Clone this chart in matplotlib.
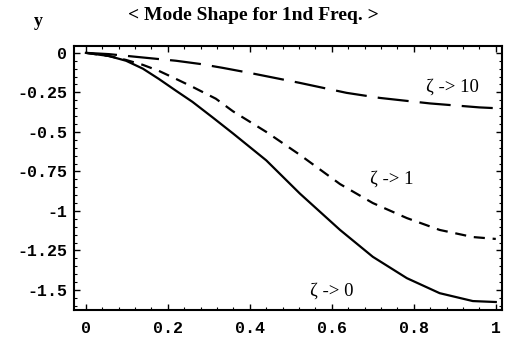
import numpy as np
import matplotlib.pyplot as plt
from matplotlib.ticker import MultipleLocator

# values
x_z0 = [0.0, 0.056, 0.098, 0.139, 0.178, 0.22, 0.26, 0.31, 0.359, 0.44, 0.522, 0.62, 0.7, 0.783, 0.863, 0.944, 1.0]
y_z0 = [0.0, -0.02, -0.05, -0.10, -0.165, -0.24, -0.31, -0.41, -0.51, -0.68, -0.89, -1.12, -1.29, -1.425, -1.52, -1.57, -1.576]

x_z1 = [0.0, 0.056, 0.098, 0.139, 0.178, 0.22, 0.26, 0.317, 0.359, 0.44, 0.522, 0.62, 0.7, 0.783, 0.863, 0.944, 1.0]
y_z1 = [0.0, -0.02, -0.045, -0.076, -0.114, -0.165, -0.215, -0.29, -0.37, -0.5, -0.645, -0.83, -0.95, -1.045, -1.12, -1.165, -1.177]

x_z10 = [0.0, 0.056, 0.122, 0.22, 0.278, 0.334, 0.4, 0.522, 0.636, 0.717, 0.84, 0.96, 1.0]
y_z10 = [0.0, -0.008, -0.025, -0.05, -0.07, -0.095, -0.127, -0.19, -0.253, -0.285, -0.32, -0.345, -0.35]

labels = ['ζ -> 0', 'ζ -> 1', 'ζ -> 10']
label_pos = [(0.60, -1.51), (0.745, -0.80), (0.895, -0.215)]

xticks = [0, 0.2, 0.4, 0.6, 0.8, 1]
xticklabels = ['0', '0.2', '0.4', '0.6', '0.8', '1']
yticks = [0, -0.25, -0.5, -0.75, -1, -1.25, -1.5]
yticklabels = ['0', '-0.25', '-0.5', '-0.75', '-1', '-1.25', '-1.5']

fig = plt.figure(figsize=(5.07, 3.40), dpi=100)
ax = fig.add_axes([0.146, 0.088, 0.844, 0.777])

ax.plot(x_z0, y_z0, color='black', lw=1.6)
ax.plot(x_z1, y_z1, color='black', lw=1.6, dashes=(5, 3.5))
ax.plot(x_z10, y_z10, color='black', lw=1.6, dashes=(14, 5))

for txt, (lx, ly) in zip(labels, label_pos):
    ax.text(lx, ly, txt, family='Liberation Serif', fontsize=13.5, ha='center', va='center')

ax.set_xlim(-0.029, 1.015)
ax.set_ylim(-1.627, 0.044)
ax.set_xticks(xticks)
ax.set_xticklabels(xticklabels, family='Liberation Mono', fontweight='bold', fontsize=12)
ax.set_yticks(yticks)
ax.set_yticklabels(yticklabels, family='Liberation Mono', fontweight='bold', fontsize=12)
ax.xaxis.set_minor_locator(MultipleLocator(0.04))
ax.yaxis.set_minor_locator(MultipleLocator(0.05))
ax.tick_params(which='both', direction='in', top=True, right=True, labeltop=False, labelright=False)
ax.tick_params(which='major', length=4, width=1)
ax.tick_params(axis='x', which='major', pad=8)
ax.tick_params(axis='y', which='major', pad=5)
ax.tick_params(which='minor', length=2, width=0.8)
for s in ax.spines.values():
    s.set_linewidth(1.5)

fig.text(0.5, 0.955, '< Mode Shape for 1nd Freq. >', family='Liberation Serif',
         fontweight='bold', fontsize=14, ha='center', va='center')
fig.text(0.075, 0.938, 'y', family='Liberation Serif', fontweight='bold', fontsize=13,
         ha='center', va='center')

fig.savefig('out.png', dpi=100)
